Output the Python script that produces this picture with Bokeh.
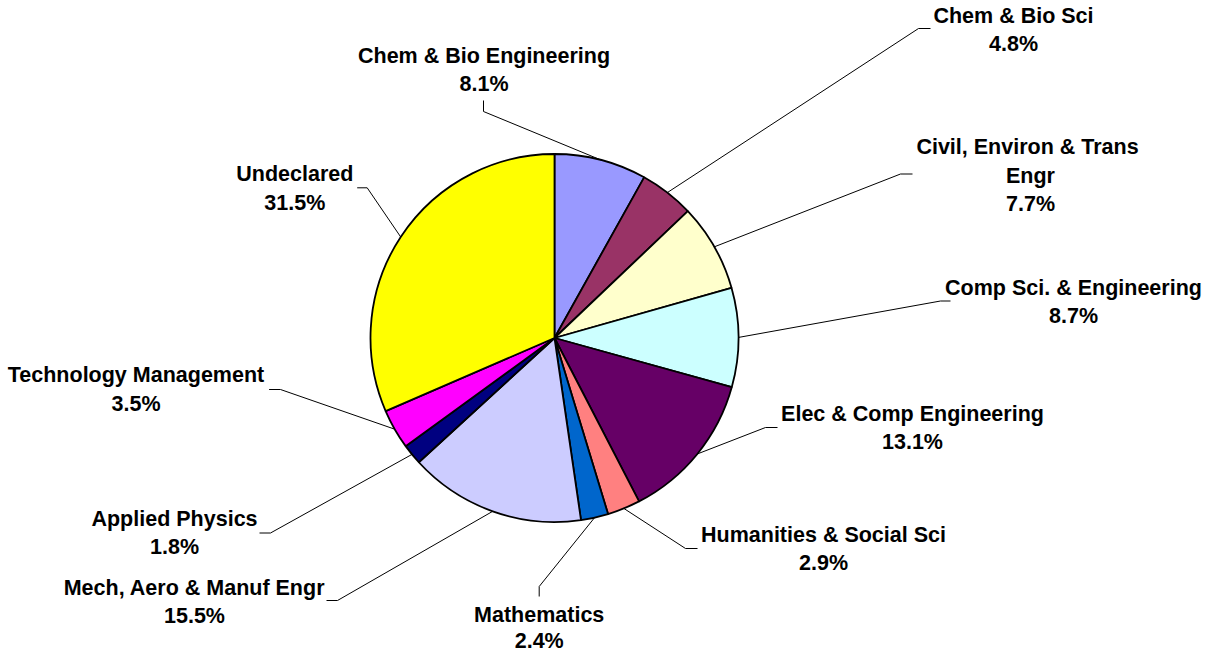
import math
from bokeh.plotting import figure
from bokeh.models import Range1d, ColumnDataSource
from bokeh.embed import file_html
from bokeh.resources import INLINE
from bokeh.core.properties import value

# ---- data ----
departments = [
    "Chem & Bio Engineering",
    "Chem & Bio Sci",
    "Civil,  Environ & Trans\nEngr",
    "Comp Sci. & Engineering",
    "Elec & Comp Engineering",
    "Humanities & Social Sci",
    "Mathematics",
    "Mech, Aero & Manuf Engr",
    "Applied Physics",
    "Technology Management",
    "Undeclared",
]
percents = [8.1, 4.8, 7.7, 8.7, 13.1, 2.9, 2.4, 15.5, 1.8, 3.5, 31.5]
colors = ["#9999FF", "#993366", "#FFFFCC", "#CCFFFF", "#660066", "#FF8080",
          "#0066CC", "#CCCCFF", "#000080", "#FF00FF", "#FFFF00"]

# ---- layout (pixel coordinates from the top-left of the canvas) ----
W, H = 1204, 655
CX, CY, R = 554, 337.5, 184
# label centre x, y of first text line
label_x = [483.5, 1013, 1030, 1073, 912, 823, 538.7, 194, 174, 135.5, 294.3]
label_y = [55, 15, 146.5, 287, 413, 534, 614, 587, 518, 374.5, 173.5]
LINE_STEP = 28.5
# leader: elbow point and stub end
elbow = [(483, 111), (918, 28), (900, 173.5), (940, 300.5), (765, 427),
         (685, 548), (538.7, 586), (337, 600), (270, 532.5), (280, 389),
         (366.7, 187.3)]
stub = [(483, 100), (930, 28), (912, 173.5), (950, 300.5), (777, 427),
        (697, 548), (538.7, 596), (326, 600), (259, 532.5), (268.6, 389),
        (356.7, 187.3)]


def Y(img_y):
    return H - img_y


p = figure(width=W, height=H, output_backend="svg", toolbar_location=None,
           x_range=Range1d(0, W), y_range=Range1d(0, H),
           min_border=0)
p.axis.visible = False
p.grid.visible = False
p.outline_line_color = None
p.background_fill_color = "white"
p.border_fill_color = "white"

total = sum(percents)
starts, ends, mids = [], [], []
cum = 0.0
for v in percents:
    a0 = math.pi / 2 - 2 * math.pi * (cum + v) / total
    a1 = math.pi / 2 - 2 * math.pi * cum / total
    starts.append(a0)
    ends.append(a1)
    mids.append((a0 + a1) / 2)
    cum += v

src = ColumnDataSource(dict(start=starts, end=ends, color=colors))
p.wedge(x=CX, y=Y(CY), radius=R, start_angle="start", end_angle="end",
        fill_color="color", line_color="black", line_width=1.8, source=src)

# leader lines
xs, ys = [], []
for i, m in enumerate(mids):
    ex = CX + R * math.cos(m)
    ey = Y(CY) + R * math.sin(m)
    xs.append([ex, elbow[i][0], stub[i][0]])
    ys.append([ey, Y(elbow[i][1]), Y(stub[i][1])])
p.multi_line(xs=xs, ys=ys, line_color="black", line_width=1)

# labels
tx, ty, tt = [], [], []
for i, name in enumerate(departments):
    lines = name.split("\n") + [f"{percents[i]:.1f}%"]
    step = 26.5 if i == 6 else LINE_STEP
    for k, ln in enumerate(lines):
        tx.append(label_x[i])
        ty.append(Y(label_y[i] + k * step))
        tt.append(ln)
p.text(x=tx, y=ty, text=tt, text_align="center", text_baseline="middle",
       text_font=value("Liberation Sans"), text_font_style="bold",
       text_font_size="21.5px", text_color="black")

open("out.html", "w").write(file_html(p, INLINE))
